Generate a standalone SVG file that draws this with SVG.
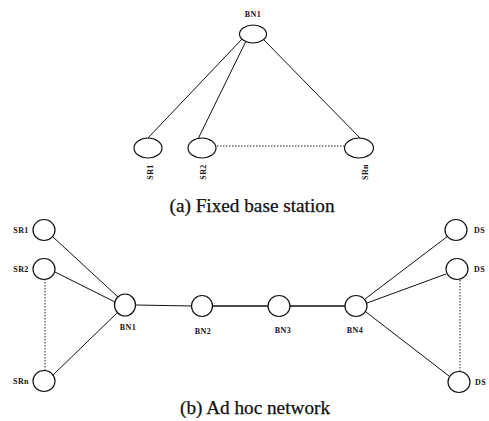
<svg xmlns="http://www.w3.org/2000/svg" width="489" height="421" viewBox="0 0 489 421">
  <style>
    .node { fill: #fff; stroke: #111; stroke-width: 1.2; }
    .link { stroke: #111; stroke-width: 1; fill: none; }
    .link.thick { stroke-width: 1.5; }
    .dot { stroke: #222; stroke-width: 1; stroke-dasharray: 1.5 1.5; fill: none; }
    .lbl { font-family: "Liberation Serif", "DejaVu Serif", serif; font-weight: bold; font-size: 8px; fill: #111; letter-spacing: 0.4px; }
    .cap { font-family: "Liberation Serif", "DejaVu Serif", serif; font-size: 18px; fill: #111; stroke: #111; stroke-width: 0.25; }
  </style>
  <rect width="489" height="421" fill="#fff"/>

  <!-- (a) fixed base station -->
  <g id="connectors-a">
    <line class="link" x1="243" y1="38" x2="147" y2="139"/>
    <line class="link" x1="246" y1="41" x2="198" y2="139"/>
    <line class="link" x1="264" y1="40" x2="361" y2="139"/>
    <line class="dot" x1="217" y1="146" x2="344" y2="146"/>
  </g>
  <g id="a-BN1">
    <ellipse class="node" cx="253" cy="34" rx="13.5" ry="9"/>
    <text class="lbl" x="253" y="17" text-anchor="middle">BN1</text>
  </g>
  <g id="a-SR1">
    <ellipse class="node" cx="148" cy="148" rx="14" ry="10"/>
    <text class="lbl" transform="translate(153,172) rotate(-90)" text-anchor="middle">SR1</text>
  </g>
  <g id="a-SR2">
    <ellipse class="node" cx="202" cy="148" rx="14" ry="10"/>
    <text class="lbl" transform="translate(206,172) rotate(-90)" text-anchor="middle">SR2</text>
  </g>
  <g id="a-SRn">
    <ellipse class="node" cx="359" cy="148" rx="14.5" ry="10"/>
    <text class="lbl" transform="translate(368,172) rotate(-90)" text-anchor="middle">SRn</text>
  </g>
  <text class="cap" x="252" y="212" text-anchor="middle" textLength="165" lengthAdjust="spacingAndGlyphs">(a) Fixed base station</text>

  <!-- (b) ad hoc network -->
  <g id="connectors-b">
    <line class="link" x1="53" y1="237" x2="118" y2="297"/>
    <line class="link" x1="55" y1="272" x2="115" y2="302"/>
    <line class="link" x1="52" y1="376" x2="118" y2="312"/>
    <line class="link" x1="136" y1="305" x2="192" y2="306"/>
    <line class="link thick" x1="213" y1="306" x2="268" y2="306"/>
    <line class="link thick" x1="290" y1="306" x2="345" y2="306"/>
    <line class="link" x1="365" y1="299" x2="448" y2="236"/>
    <line class="link" x1="367" y1="303" x2="446" y2="274"/>
    <line class="link" x1="366" y1="312" x2="449" y2="376"/>
    <line class="dot" x1="45" y1="279" x2="45" y2="370"/>
    <line class="dot" x1="460" y1="280" x2="460" y2="371"/>
  </g>
  <g id="b-SR1">
    <ellipse class="node" cx="44" cy="230" rx="11" ry="10.5"/>
    <text class="lbl" x="21" y="233" text-anchor="middle">SR1</text>
  </g>
  <g id="b-SR2">
    <ellipse class="node" cx="44" cy="269" rx="11" ry="10.5"/>
    <text class="lbl" x="21" y="272" text-anchor="middle">SR2</text>
  </g>
  <g id="b-SRn">
    <ellipse class="node" cx="44" cy="381" rx="11" ry="10.5"/>
    <text class="lbl" x="21" y="384" text-anchor="middle">SRn</text>
  </g>
  <g id="b-BN1">
    <ellipse class="node" cx="125" cy="305" rx="10.5" ry="11"/>
    <text class="lbl" x="128" y="330" text-anchor="middle">BN1</text>
  </g>
  <g id="b-BN2">
    <ellipse class="node" cx="202" cy="306" rx="10.5" ry="10.5"/>
    <text class="lbl" x="203" y="334" text-anchor="middle">BN2</text>
  </g>
  <g id="b-BN3">
    <ellipse class="node" cx="279" cy="306" rx="11" ry="10.5"/>
    <text class="lbl" x="283" y="333" text-anchor="middle">BN3</text>
  </g>
  <g id="b-BN4">
    <ellipse class="node" cx="356" cy="306" rx="11" ry="10.5"/>
    <text class="lbl" x="355" y="333" text-anchor="middle">BN4</text>
  </g>
  <g id="b-DS1">
    <ellipse class="node" cx="456" cy="230" rx="11" ry="10.5"/>
    <text class="lbl" x="474" y="233">DS</text>
  </g>
  <g id="b-DS2">
    <ellipse class="node" cx="457" cy="269" rx="11" ry="10.5"/>
    <text class="lbl" x="474" y="272">DS</text>
  </g>
  <g id="b-DS3">
    <ellipse class="node" cx="459" cy="382" rx="11" ry="10.5"/>
    <text class="lbl" x="475" y="385">DS</text>
  </g>
  <text class="cap" x="255" y="414" text-anchor="middle" textLength="150" lengthAdjust="spacingAndGlyphs">(b) Ad hoc network</text>
</svg>
